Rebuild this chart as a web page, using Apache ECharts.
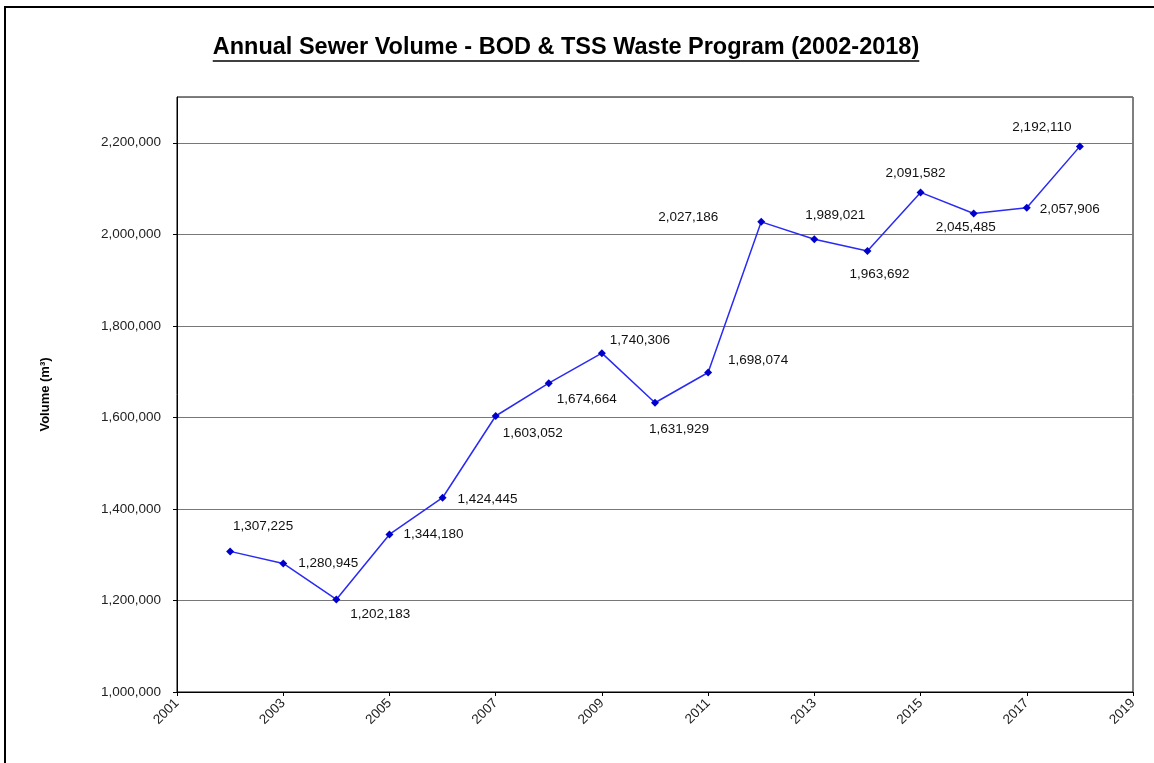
<!DOCTYPE html>
<html>
<head>
<meta charset="utf-8">
<script src="https://cdn.jsdelivr.net/npm/echarts@6/dist/echarts.min.js"></script>
<style>
html,body{margin:0;padding:0;background:#fff;}
#chart{width:1154px;height:763px;}
</style>
</head>
<body>
<div id="chart"></div>
<script>
const years = [2002,2003,2004,2005,2006,2007,2008,2009,2010,2011,2012,2013,2014,2015,2016,2017,2018];
const volumes = [1307225,1280945,1202183,1344180,1424445,1603052,1674664,1740306,1631929,1698074,2027186,1989021,1963692,2091582,2045485,2057906,2192110];
const titleText = 'Annual Sewer Volume - BOD & TSS Waste Program (2002-2018)';
const yAxisTitle = 'Volume (m³)';

// label placement (pixel offsets of label centre from point) - style only
const labelOffsets = [[33,-25],[45,0],[44,15],[44,0],[45,2],[37,17],[38,16],[38,-13],[24,27],[50,-12],[-73,-5],[21,-24],[12,23],[-5,-19],[-8,14],[43,1],[-38,-19]];

const fmt = v => Number(v).toLocaleString('en-US');
const FONT = 'Liberation Sans, Arial';
const TITLE_SIZE = 23.5;

const chart = echarts.init(document.getElementById('chart'));
const seriesData = years.map((y,i)=>({
  value:[y, volumes[i]],
  label:{offset: labelOffsets[i]}
}));

const ctx = document.createElement('canvas').getContext('2d');
ctx.font = 'bold ' + TITLE_SIZE + 'px "Liberation Sans", Arial';
const tw = ctx.measureText(titleText).width;
const tx0 = 566 - tw/2;

chart.setOption({
  animation:false,
  backgroundColor:'#fff',
  title:{
    text:titleText,
    left:tx0, top:36, padding:0,
    textStyle:{fontFamily:FONT, fontWeight:'bold', fontSize:TITLE_SIZE, color:'#000'}
  },
  graphic:[
    {type:'rect', shape:{x:5,y:7,width:1200,height:800}, style:{fill:null, stroke:'#000', lineWidth:2}, silent:true, z:-1},
    {type:'line', shape:{x1:tx0, y1:61, x2:tx0+tw, y2:61}, style:{stroke:'#000', lineWidth:1.6}, silent:true}
  ],
  grid:{left:177, right:21, top:97, bottom:71, show:true, borderColor:'#000', borderWidth:1, backgroundColor:'#fff'},
  xAxis:{
    type:'value', min:2001, max:2019, interval:2,
    axisLine:{show:true, lineStyle:{color:'#000', width:1}},
    axisTick:{show:true, length:4, lineStyle:{color:'#000'}},
    splitLine:{show:false},
    axisLabel:{rotate:45, formatter:v=>String(v), color:'#222', fontFamily:FONT, fontSize:13.5, margin:9}
  },
  yAxis:{
    type:'value', min:1000000, max:2300000, interval:200000,
    name:yAxisTitle, nameLocation:'middle', nameGap:125, nameRotate:90,
    nameTextStyle:{fontFamily:FONT, fontWeight:'bold', fontSize:13, color:'#000'},
    axisLine:{show:true, lineStyle:{color:'#000', width:1}},
    axisTick:{show:true, length:4, lineStyle:{color:'#000'}},
    splitLine:{show:true, lineStyle:{color:'#777', width:1}},
    axisLabel:{showMaxLabel:false, formatter:v=>fmt(v), color:'#222', fontFamily:FONT, fontSize:13.5, margin:16}
  },
  series:[{
    type:'line',
    data:seriesData,
    symbol:'diamond', symbolSize:8,
    lineStyle:{color:'#2a2af5', width:1.5},
    itemStyle:{color:'#0000cc'},
    label:{show:true, position:'inside', formatter:p=>fmt(p.value[1]), color:'#111', fontFamily:FONT, fontSize:13.5},
    emphasis:{disabled:true}
  }]
});
</script>
</body>
</html>
